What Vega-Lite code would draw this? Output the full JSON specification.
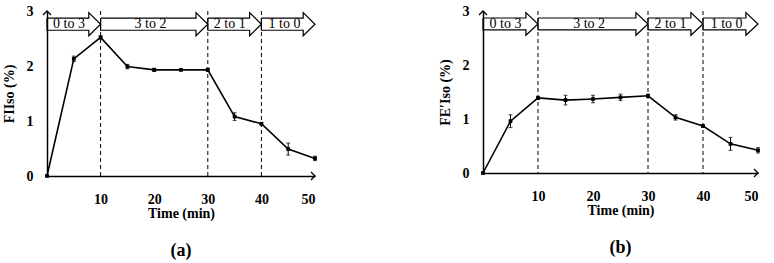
{
  "$schema": "https://vega.github.io/schema/vega-lite/v6.json",
  "padding": {"left": 2, "top": 4, "right": 0, "bottom": 0},
  "background": "white",
  "config": {
    "view": {"stroke": null},
    "font": "'Liberation Serif', serif",
    "axis": {
      "grid": false, "ticks": false, "domainColor": "black", "domainWidth": 1.5, "format": "d",
      "labelFont": "'Liberation Serif', serif", "labelFontWeight": "bold", "labelFontSize": 14, "labelColor": "black",
      "titleFont": "'Liberation Serif', serif", "titleFontWeight": "bold", "titleFontSize": 14, "titleColor": "black"
    },
    "axisX": {"labelPadding": 16, "titlePadding": 0},
    "axisY": {"labelPadding": 14, "titlePadding": 10},
    "title": {"font": "'Liberation Serif', serif", "fontSize": 18, "fontWeight": "bold", "color": "black", "orient": "bottom", "offset": 22}
  },
  "datasets": {
    "arrows": [
      {"a": 1, "i": 0, "t": 0, "v": 2.87}, {"a": 1, "i": 1, "t": 7.8, "v": 2.87}, {"a": 1, "i": 2, "t": 7.8, "v": 2.97}, {"a": 1, "i": 3, "t": 10, "v": 2.76},
      {"a": 1, "i": 4, "t": 7.8, "v": 2.55}, {"a": 1, "i": 5, "t": 7.8, "v": 2.65}, {"a": 1, "i": 6, "t": 0, "v": 2.65}, {"a": 1, "i": 7, "t": 0, "v": 2.87},
      {"a": 2, "i": 0, "t": 10, "v": 2.87}, {"a": 2, "i": 1, "t": 27.8, "v": 2.87}, {"a": 2, "i": 2, "t": 27.8, "v": 2.97}, {"a": 2, "i": 3, "t": 30, "v": 2.76},
      {"a": 2, "i": 4, "t": 27.8, "v": 2.55}, {"a": 2, "i": 5, "t": 27.8, "v": 2.65}, {"a": 2, "i": 6, "t": 10, "v": 2.65}, {"a": 2, "i": 7, "t": 10, "v": 2.87},
      {"a": 3, "i": 0, "t": 30, "v": 2.87}, {"a": 3, "i": 1, "t": 37.8, "v": 2.87}, {"a": 3, "i": 2, "t": 37.8, "v": 2.97}, {"a": 3, "i": 3, "t": 40, "v": 2.76},
      {"a": 3, "i": 4, "t": 37.8, "v": 2.55}, {"a": 3, "i": 5, "t": 37.8, "v": 2.65}, {"a": 3, "i": 6, "t": 30, "v": 2.65}, {"a": 3, "i": 7, "t": 30, "v": 2.87},
      {"a": 4, "i": 0, "t": 40, "v": 2.87}, {"a": 4, "i": 1, "t": 47.8, "v": 2.87}, {"a": 4, "i": 2, "t": 47.8, "v": 2.97}, {"a": 4, "i": 3, "t": 50, "v": 2.76},
      {"a": 4, "i": 4, "t": 47.8, "v": 2.55}, {"a": 4, "i": 5, "t": 47.8, "v": 2.65}, {"a": 4, "i": 6, "t": 40, "v": 2.65}, {"a": 4, "i": 7, "t": 40, "v": 2.87}
    ],
    "labels": [
      {"t": 4.1, "v": 2.76, "s": "0 to 3"},
      {"t": 19.3, "v": 2.76, "s": "3 to 2"},
      {"t": 34.1, "v": 2.76, "s": "2 to 1"},
      {"t": 44.3, "v": 2.76, "s": "1 to 0"}
    ],
    "rules": [{"t": 10}, {"t": 30}, {"t": 40}],
    "xend": [{"t": 50, "v": 0}],
    "yend": [{"t": 0, "v": 3}],
    "fiiso": [
      {"t": 0, "v": 0, "e": 0.01}, {"t": 5, "v": 2.13, "e": 0.05}, {"t": 10, "v": 2.52, "e": 0.03},
      {"t": 15, "v": 1.99, "e": 0.04}, {"t": 20, "v": 1.93, "e": 0.03}, {"t": 25, "v": 1.93, "e": 0.02},
      {"t": 30, "v": 1.93, "e": 0.03}, {"t": 35, "v": 1.08, "e": 0.07}, {"t": 40, "v": 0.95, "e": 0.02},
      {"t": 45, "v": 0.49, "e": 0.11}, {"t": 50, "v": 0.32, "e": 0.04}
    ],
    "feiso": [
      {"t": 0, "v": 0, "e": 0.01}, {"t": 5, "v": 0.96, "e": 0.12}, {"t": 10, "v": 1.39, "e": 0.03},
      {"t": 15, "v": 1.35, "e": 0.09}, {"t": 20, "v": 1.37, "e": 0.07}, {"t": 25, "v": 1.40, "e": 0.06},
      {"t": 30, "v": 1.43, "e": 0.03}, {"t": 35, "v": 1.03, "e": 0.05}, {"t": 40, "v": 0.87, "e": 0.02},
      {"t": 45, "v": 0.54, "e": 0.12}, {"t": 50, "v": 0.42, "e": 0.05}
    ]
  },
  "spacing": 119,
  "hconcat": [
    {
      "width": 268, "height": 165,
      "title": "(a)",
      "layer": [
        {
          "data": {"name": "rules"},
          "mark": {"type": "rule", "strokeDash": [4, 3], "color": "black", "strokeWidth": 1},
          "encoding": {
            "x": {"field": "t", "type": "quantitative", "scale": {"domain": [0, 50], "nice": false}, "axis": {"values": [10, 20, 30, 40, 50], "title": "Time (min)"}}
          }
        },
        {
          "data": {"name": "arrows"},
          "mark": {"type": "line", "color": "black", "strokeWidth": 1.2},
          "encoding": {
            "x": {"field": "t", "type": "quantitative", "title": "Time (min)"},
            "y": {"field": "v", "type": "quantitative", "scale": {"domain": [0, 3], "nice": false}, "axis": {"values": [0, 1, 2, 3], "title": "FIIso (%)"}},
            "detail": {"field": "a"},
            "order": {"field": "i"}
          }
        },
        {
          "data": {"name": "labels"},
          "mark": {"type": "text", "fontSize": 14, "font": "'Liberation Serif', serif", "color": "black", "baseline": "middle"},
          "encoding": {
            "x": {"field": "t", "type": "quantitative", "title": "Time (min)"},
            "y": {"field": "v", "type": "quantitative", "title": "FIIso (%)"},
            "text": {"field": "s"}
          }
        },
        {
          "data": {"name": "xend"},
          "mark": {"type": "point", "shape": "M-1,-1L0,0L-1,1", "size": 64, "filled": false, "color": "black", "strokeWidth": 1.3, "opacity": 1},
          "encoding": {
            "x": {"field": "t", "type": "quantitative", "title": "Time (min)"},
            "y": {"field": "v", "type": "quantitative", "title": "FIIso (%)"}
          }
        },
        {
          "data": {"name": "yend"},
          "mark": {"type": "point", "shape": "M-1,1L0,0L1,1", "size": 64, "filled": false, "color": "black", "strokeWidth": 1.3, "opacity": 1},
          "encoding": {
            "x": {"field": "t", "type": "quantitative", "title": "Time (min)"},
            "y": {"field": "v", "type": "quantitative", "title": "FIIso (%)"}
          }
        },
        {
          "data": {"name": "fiiso"},
          "mark": {"type": "errorbar", "color": "black", "ticks": {"size": 4, "color": "black"}, "thickness": 1},
          "encoding": {
            "x": {"field": "t", "type": "quantitative", "title": "Time (min)"},
            "y": {"field": "v", "type": "quantitative", "title": "FIIso (%)"},
            "yError": {"field": "e"}
          }
        },
        {
          "data": {"name": "fiiso"},
          "mark": {"type": "line", "color": "black", "strokeWidth": 1.6, "point": {"shape": "square", "size": 14, "color": "black", "filled": true}},
          "encoding": {
            "x": {"field": "t", "type": "quantitative", "title": "Time (min)"},
            "y": {"field": "v", "type": "quantitative", "title": "FIIso (%)"}
          }
        }
      ]
    },
    {
      "width": 275, "height": 162,
      "title": "(b)",
      "layer": [
        {
          "data": {"name": "rules"},
          "mark": {"type": "rule", "strokeDash": [4, 3], "color": "black", "strokeWidth": 1},
          "encoding": {
            "x": {"field": "t", "type": "quantitative", "scale": {"domain": [0, 50], "nice": false}, "axis": {"values": [10, 20, 30, 40, 50], "title": "Time (min)"}}
          }
        },
        {
          "data": {"name": "arrows"},
          "mark": {"type": "line", "color": "black", "strokeWidth": 1.2},
          "encoding": {
            "x": {"field": "t", "type": "quantitative", "title": "Time (min)"},
            "y": {"field": "v", "type": "quantitative", "scale": {"domain": [0, 3], "nice": false}, "axis": {"values": [0, 1, 2, 3], "title": "FE′Iso (%)"}},
            "detail": {"field": "a"},
            "order": {"field": "i"}
          }
        },
        {
          "data": {"name": "labels"},
          "mark": {"type": "text", "fontSize": 14, "font": "'Liberation Serif', serif", "color": "black", "baseline": "middle"},
          "encoding": {
            "x": {"field": "t", "type": "quantitative", "title": "Time (min)"},
            "y": {"field": "v", "type": "quantitative", "title": "FE′Iso (%)"},
            "text": {"field": "s"}
          }
        },
        {
          "data": {"name": "xend"},
          "mark": {"type": "point", "shape": "M-1,-1L0,0L-1,1", "size": 64, "filled": false, "color": "black", "strokeWidth": 1.3, "opacity": 1},
          "encoding": {
            "x": {"field": "t", "type": "quantitative", "title": "Time (min)"},
            "y": {"field": "v", "type": "quantitative", "title": "FE′Iso (%)"}
          }
        },
        {
          "data": {"name": "yend"},
          "mark": {"type": "point", "shape": "M-1,1L0,0L1,1", "size": 64, "filled": false, "color": "black", "strokeWidth": 1.3, "opacity": 1},
          "encoding": {
            "x": {"field": "t", "type": "quantitative", "title": "Time (min)"},
            "y": {"field": "v", "type": "quantitative", "title": "FE′Iso (%)"}
          }
        },
        {
          "data": {"name": "feiso"},
          "mark": {"type": "errorbar", "color": "black", "ticks": {"size": 4, "color": "black"}, "thickness": 1},
          "encoding": {
            "x": {"field": "t", "type": "quantitative", "title": "Time (min)"},
            "y": {"field": "v", "type": "quantitative", "title": "FE′Iso (%)"},
            "yError": {"field": "e"}
          }
        },
        {
          "data": {"name": "feiso"},
          "mark": {"type": "line", "color": "black", "strokeWidth": 1.6, "point": {"shape": "square", "size": 14, "color": "black", "filled": true}},
          "encoding": {
            "x": {"field": "t", "type": "quantitative", "title": "Time (min)"},
            "y": {"field": "v", "type": "quantitative", "title": "FE′Iso (%)"}
          }
        }
      ]
    }
  ]
}
